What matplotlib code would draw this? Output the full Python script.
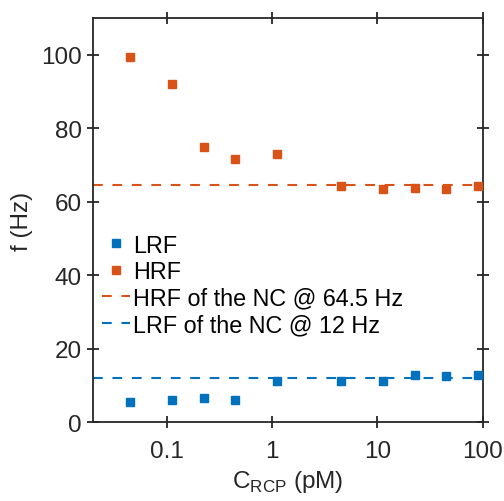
import matplotlib
matplotlib.use("Agg")
import matplotlib.pyplot as plt
from matplotlib.ticker import NullLocator

plt.rcParams['font.family'] = ['Liberation Sans', 'DejaVu Sans']
plt.rcParams['mathtext.fontset'] = 'custom'
plt.rcParams['mathtext.rm'] = 'Liberation Sans'
plt.rcParams['lines.scale_dashes'] = False

# concentrations (pM)
c_rcp = [0.045, 0.112, 0.225, 0.45, 1.12, 4.5, 11.25, 22.5, 45, 90]
lrf = [5.5, 6.0, 6.5, 6.1, 11.1, 11.1, 11.3, 12.9, 12.6, 12.8]
hrf = [99.5, 92.1, 74.9, 71.7, 73.0, 64.2, 63.4, 63.8, 63.6, 64.3]
nc_hrf = 64.5
nc_lrf = 12

blue = '#0072BD'
orange = '#D95319'
dark = '#262626'

fig = plt.figure(figsize=(5.04, 5.02), dpi=100)
ax = fig.add_axes([0.1845, 0.157, 0.7735, 0.805])

ax.plot(c_rcp, lrf, 's', color=blue, markersize=6, label='LRF', zorder=3)
ax.plot(c_rcp, hrf, 's', color=orange, markersize=6, label='HRF', zorder=3)
ax.axhline(nc_hrf, color=orange, lw=1.5, dashes=(7, 7), label='HRF of the NC @ 64.5 Hz')
ax.axhline(nc_lrf, color=blue, lw=1.5, dashes=(7, 7), label='LRF of the NC @ 12 Hz')

ax.set_xscale('log')
ax.set_xlim(0.02, 100)
ax.set_ylim(0, 110)
ax.set_xticks([0.1, 1, 10, 100])
ax.set_xticklabels(['0.1', '1', '10', '100'])
ax.set_yticks([0, 20, 40, 60, 80, 100])
ax.xaxis.set_minor_locator(NullLocator())

ax.tick_params(direction='inout', length=8, width=1.3, colors=dark,
               labelsize=17.5, top=True, right=True)
ax.tick_params(axis='x', pad=9)
ax.tick_params(axis='y', pad=4)
for s in ax.spines.values():
    s.set_linewidth(1.3)
    s.set_color(dark)

ax.set_xlabel(r'C$_{\mathregular{RCP}}$ (pM)', fontsize=17.5, color=dark, labelpad=4)
ax.set_ylabel('f (Hz)', fontsize=17.5, color=dark, labelpad=6)

ax.legend(loc='upper left', bbox_to_anchor=(0.0, 0.49), frameon=False,
          fontsize=16.8, handlelength=1.2, handletextpad=0.1,
          labelspacing=0.15, borderaxespad=0.2, borderpad=0.2)

fig.savefig('out.png', dpi=100)
